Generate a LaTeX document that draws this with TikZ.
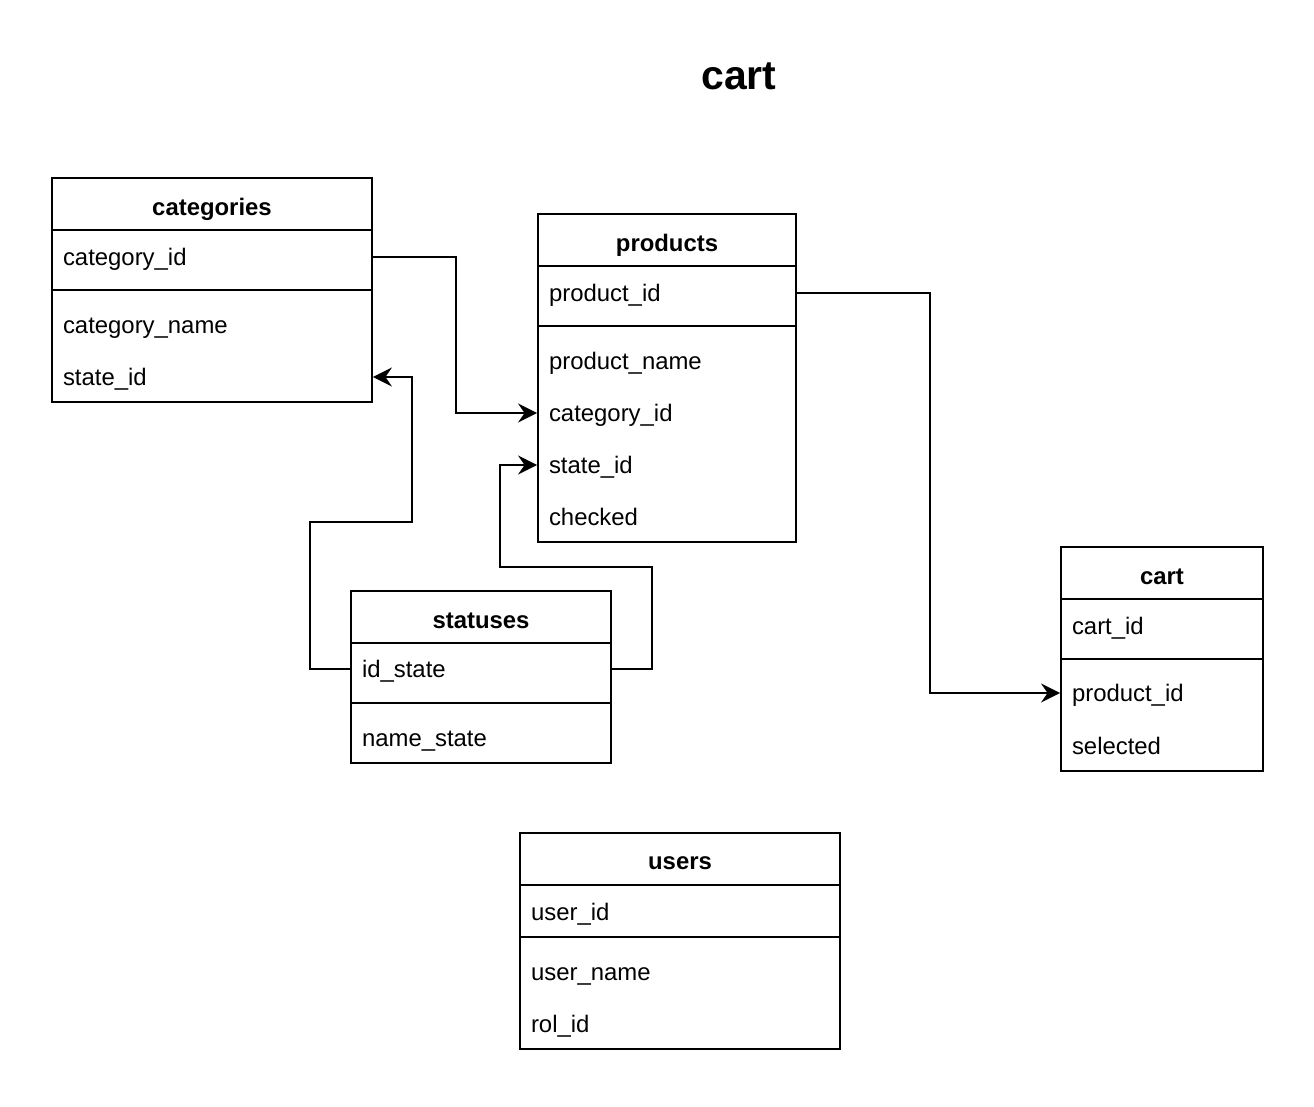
\documentclass[tikz,border=0pt]{standalone}
\usepackage{fontspec}
\setmainfont{Liberation Sans}
\usetikzlibrary{arrows.meta,positioning}

\begin{document}
\begin{tikzpicture}[x=0.02cm,y=-0.02cm,line width=1.1pt,
  field/.style={inner xsep=0.22cm,inner ysep=0pt,align=left,text height=0.39cm,text depth=0.06cm,
    font=\fontsize{13.6}{16}\selectfont},
  head/.style={inner sep=0pt,font=\fontsize{13.6}{16}\selectfont\bfseries},
  fk/.style={-{Stealth[length=0.38cm,width=0.38cm,inset=0.13cm]}}]
  \useasboundingbox (0,0) rectangle (1314,1106);
  \node[inner sep=0pt,font=\fontsize{23.3}{28}\selectfont\bfseries] (title) at (739,76) {cart};
  % Table categories
  \draw (52,178) rectangle (372,402);
  \draw (52,230) -- (372,230);
  \draw (52,290) -- (372,290);
  \node[head] (catHead) at (212,209) {categories};
  \node[field,text width=5.96cm] (catId) at (212,257) {category\_id};
  \node[field,text width=5.96cm] (catName) at (212,325) {category\_name};
  \node[field,text width=5.96cm] (catState) at (212,377) {state\_id};
  % Table products
  \draw (538,214) rectangle (796,542);
  \draw (538,266) -- (796,266);
  \draw (538,326) -- (796,326);
  \node[head] (prodHead) at (667,245) {products};
  \node[field,text width=4.72cm] (prodId) at (667,293) {product\_id};
  \node[field,text width=4.72cm] (prodName) at (667,361) {product\_name};
  \node[field,text width=4.72cm] (prodCat) at (667,413) {category\_id};
  \node[field,text width=4.72cm] (prodState) at (667,465) {state\_id};
  \node[field,text width=4.72cm] (prodChecked) at (667,517) {checked};
  % Table statuses
  \draw (351,591) rectangle (611,763);
  \draw (351,643) -- (611,643);
  \draw (351,703) -- (611,703);
  \node[head] (statHead) at (481,621) {statuses};
  \node[field,text width=4.76cm] (statId) at (481,669) {id\_state};
  \node[field,text width=4.76cm] (statName) at (481,738) {name\_state};
  % Table cart
  \draw (1061,547) rectangle (1263,771);
  \draw (1061,599) -- (1263,599);
  \draw (1061,659) -- (1263,659);
  \node[head] (cartHead) at (1162,577) {cart};
  \node[field,text width=3.60cm] (cartId) at (1162,626) {cart\_id};
  \node[field,text width=3.60cm] (cartProd) at (1162,693) {product\_id};
  \node[field,text width=3.60cm] (cartSel) at (1162,746) {selected};
  % Table users
  \draw (520,833) rectangle (840,1049);
  \draw (520,885) -- (840,885);
  \draw (520,937) -- (840,937);
  \node[head] (userHead) at (680,863) {users};
  \node[field,text width=5.96cm] (userId) at (680,912) {user\_id};
  \node[field,text width=5.96cm] (userName) at (680,972) {user\_name};
  \node[field,text width=5.96cm] (userRol) at (680,1024) {rol\_id};
  % Relations
  \draw[fk] (catId.east) -- ++(83,0) |- (prodCat.west);
  \draw[fk] (statId.west) -- ++(-40,0) |- ++(102,-147) |- (catState.east);
  \draw[fk] (statId.east) -- ++(40,0) |- ++(-152,-102) |- (prodState.west);
  \draw[fk] (prodId.east) -- ++(133,0) |- (cartProd.west);
\end{tikzpicture}
\end{document}
